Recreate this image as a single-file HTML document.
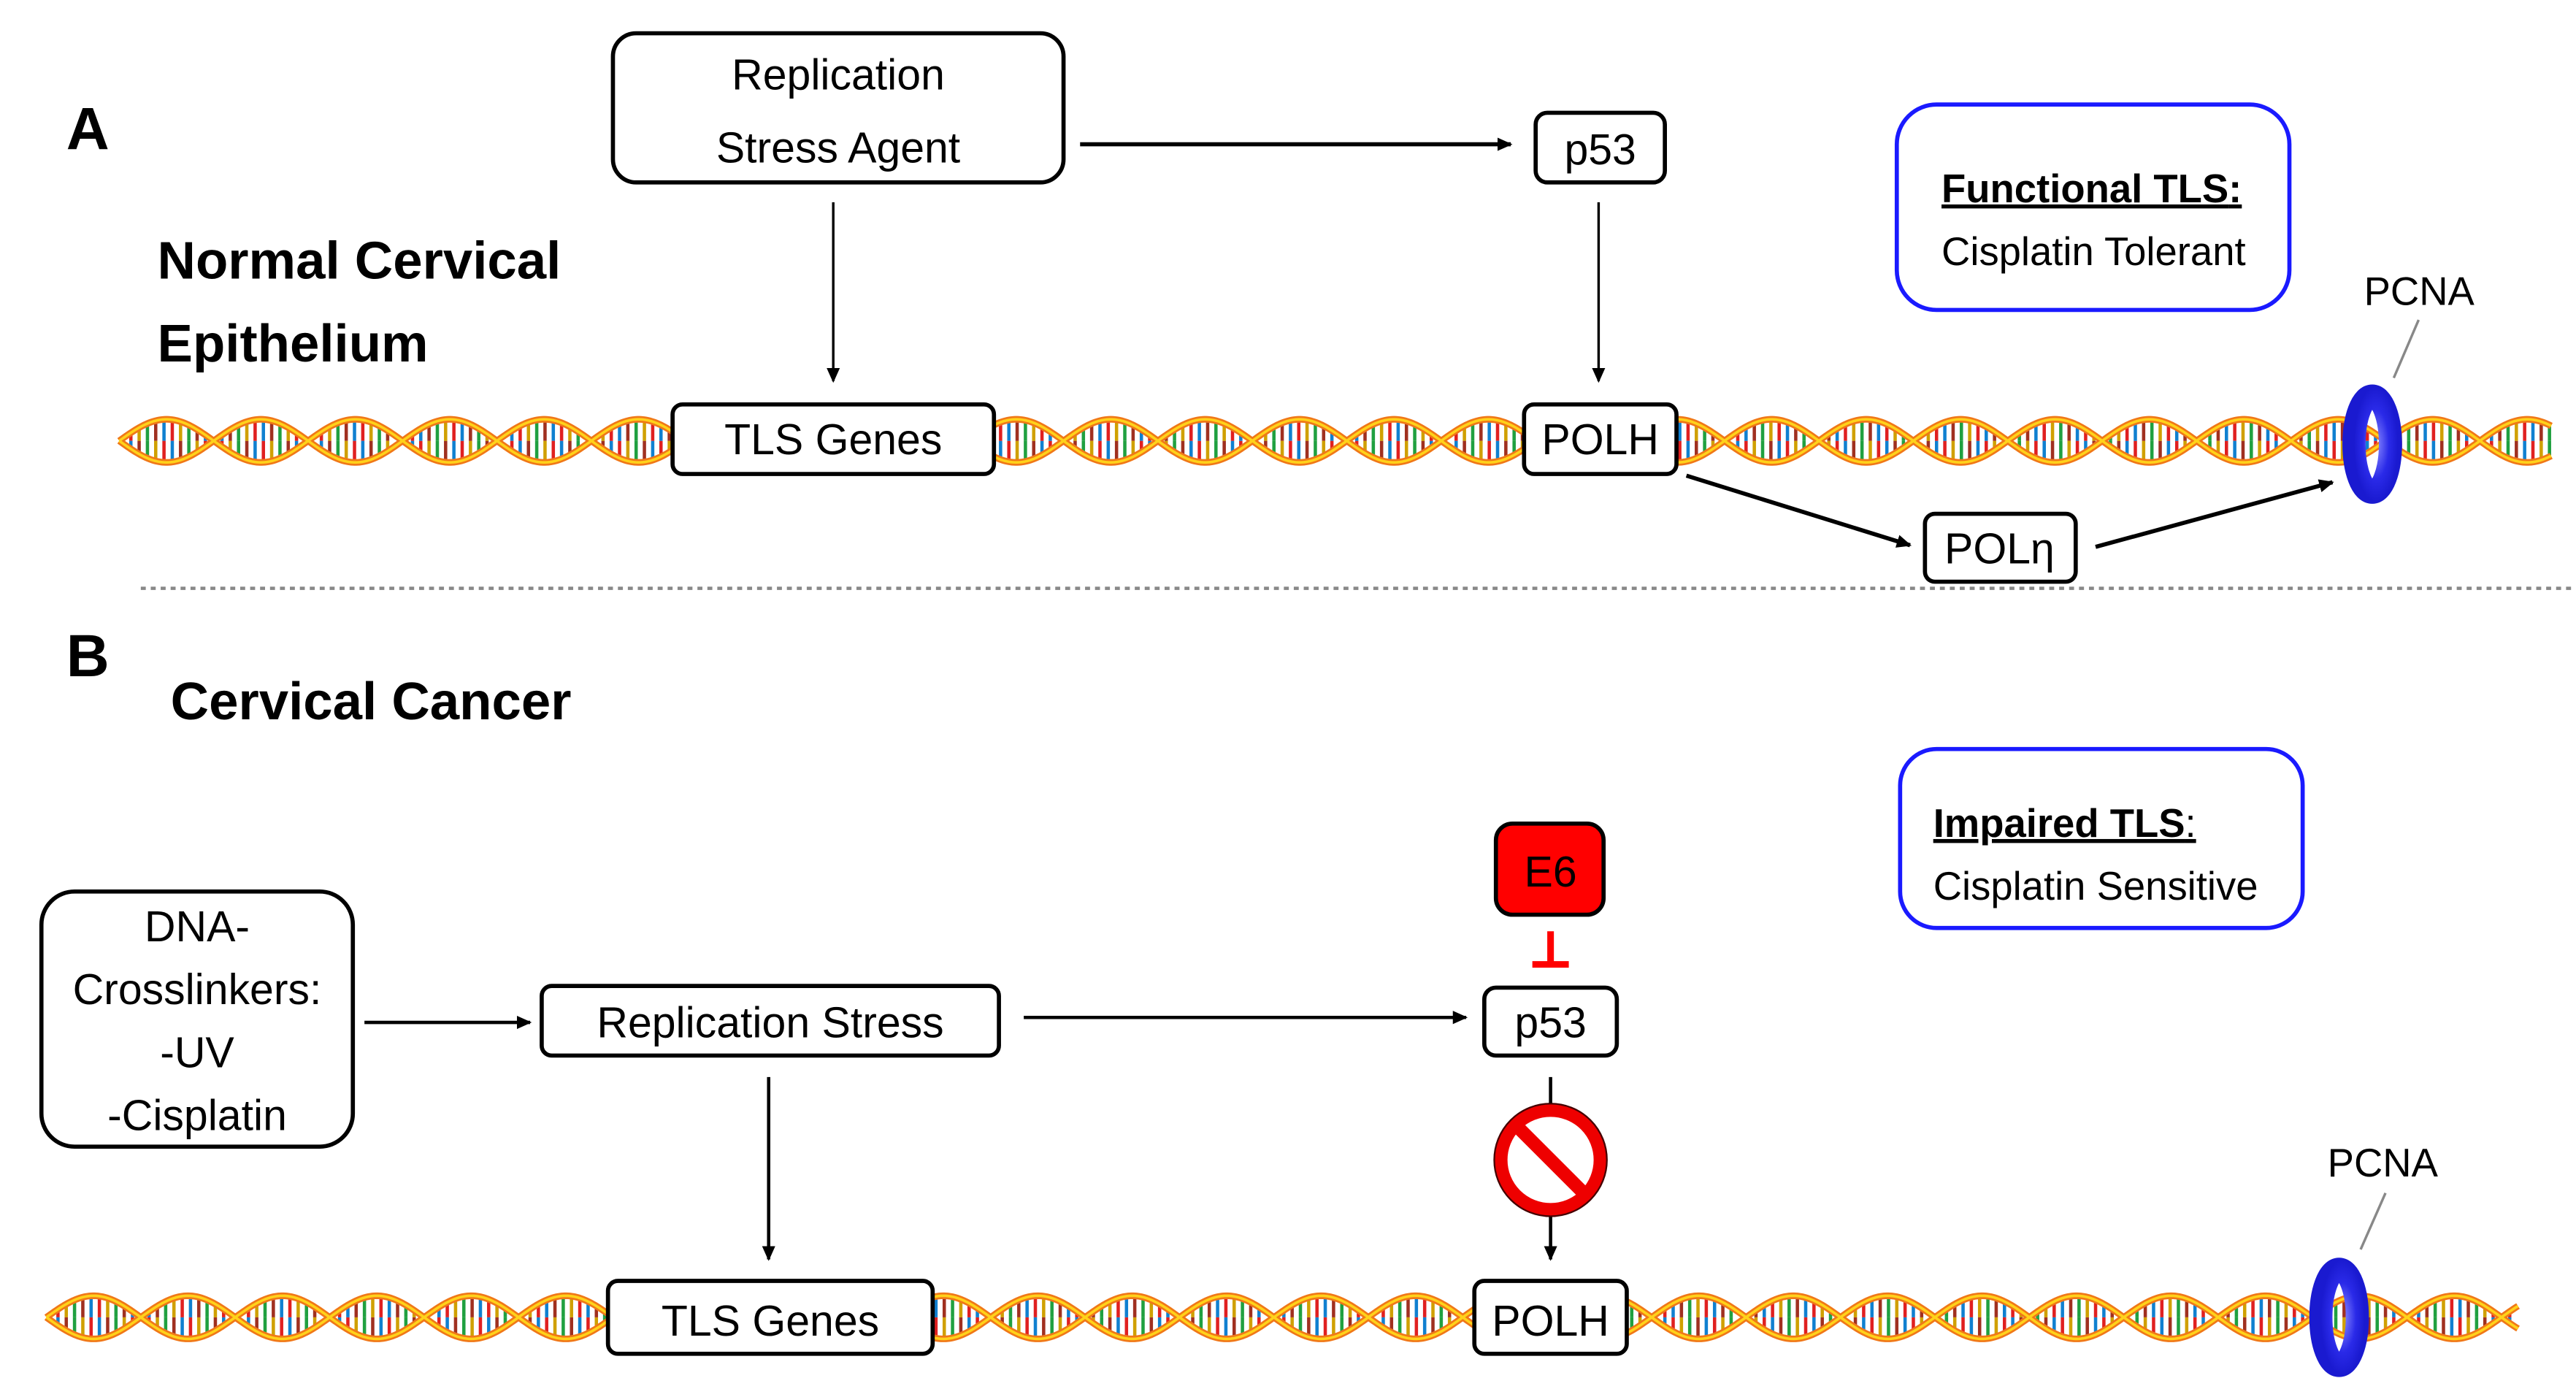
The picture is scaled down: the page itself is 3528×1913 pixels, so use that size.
<!DOCTYPE html>
<html><head><meta charset="utf-8"><style>
html,body{margin:0;padding:0;background:#fff;}
svg{display:block;}
text{font-family:"Liberation Sans","DejaVu Sans",sans-serif;}
</style></head><body>
<svg id="s" width="3528" height="1913" viewBox="0 0 1555 843" xmlns="http://www.w3.org/2000/svg">
<defs>
<marker id="ar" markerWidth="10" markerHeight="10" refX="8" refY="5" orient="auto" markerUnits="userSpaceOnUse"><path d="M0,1 L9,5 L0,9 Z" fill="#000"/></marker>
<radialGradient id="rg" cx="0.6" cy="0.5" r="0.6"><stop offset="0" stop-color="#8a8aff"/><stop offset="0.6" stop-color="#2a2ae8"/><stop offset="1" stop-color="#1a1ad0"/></radialGradient>
</defs>
<g id="dna"></g>
<g fill="none" stroke="#000" stroke-width="2">
<line x1="652" y1="87" x2="912" y2="87" stroke-width="2.5" marker-end="url(#ar)"/>
<line x1="503" y1="122" x2="503" y2="230" stroke-width="1.5" marker-end="url(#ar)"/>
<line x1="965" y1="122" x2="965" y2="230" stroke-width="1.5" marker-end="url(#ar)"/>
<line x1="1018" y1="287" x2="1153" y2="329" stroke-width="2.5" marker-end="url(#ar)"/>
<line x1="1265" y1="330" x2="1408" y2="291" stroke-width="2.5" marker-end="url(#ar)"/>
<line x1="220" y1="617" x2="320" y2="617" stroke-width="2" marker-end="url(#ar)"/>
<line x1="618" y1="614" x2="885" y2="614" stroke-width="2" marker-end="url(#ar)"/>
<line x1="464" y1="650" x2="464" y2="760" stroke-width="2" marker-end="url(#ar)"/>
<line x1="936" y1="650" x2="936" y2="760" stroke-width="2" marker-end="url(#ar)"/>
</g>
<line x1="85" y1="355" x2="1555" y2="355" stroke="#888" stroke-width="2" stroke-dasharray="3,3"/>
<line x1="1460" y1="193" x2="1445" y2="228" stroke="#888" stroke-width="1.5"/>
<line x1="1440" y1="720" x2="1425" y2="754" stroke="#888" stroke-width="1.5"/>
<g fill="#fff" stroke="#000" stroke-width="2.5">
<rect x="370" y="20" width="272" height="90" rx="14"/>
<rect x="927" y="68" width="78" height="42" rx="7"/>
<rect x="406" y="244" width="194" height="42" rx="6"/>
<rect x="920" y="244" width="92" height="42" rx="6"/>
<rect x="1162" y="310" width="91" height="41" rx="6"/>
<rect x="25" y="538" width="188" height="154" rx="20"/>
<rect x="327" y="595" width="276" height="42" rx="6"/>
<rect x="896" y="596" width="80" height="41" rx="7"/>
<rect x="367" y="773" width="196" height="44" rx="6"/>
<rect x="890" y="773" width="92" height="44" rx="6"/>
<rect x="903" y="497" width="65" height="55" rx="10" fill="#f00"/>
</g>
<g fill="#fff" stroke="#1a1aff" stroke-width="2.5">
<rect x="1145" y="63" width="237" height="124" rx="24"/>
<rect x="1147" y="452" width="243" height="108" rx="22"/>
</g>
<g stroke="#f00" stroke-width="4"><line x1="936" y1="562" x2="936" y2="582"/><line x1="925" y1="582" x2="947" y2="582"/></g>
<circle cx="936" cy="700" r="30" fill="#fff" stroke="#e00" stroke-width="8"/>
<line x1="915" y1="679" x2="957" y2="721" stroke="#e00" stroke-width="8"/>
<circle cx="936" cy="700" r="34" fill="none" stroke="#400" stroke-width="1"/>
<g id="rings"></g>
<g font-size="26" fill="#000" text-anchor="middle">
<text x="506" y="54">Replication</text>
<text x="506" y="98">Stress Agent</text>
<text x="966" y="99">p53</text>
<text x="503" y="274">TLS Genes</text>
<text x="966" y="274">POLH</text>
<text x="1207" y="340">POLη</text>
<text x="119" y="568">DNA-</text>
<text x="119" y="606">Crosslinkers:</text>
<text x="119" y="644">-UV</text>
<text x="119" y="682">-Cisplatin</text>
<text x="465" y="626">Replication Stress</text>
<text x="936" y="626">p53</text>
<text x="465" y="806">TLS Genes</text>
<text x="936" y="806">POLH</text>
<text x="936" y="535">E6</text>
</g>
<g font-size="24" fill="#000">
<text x="1172" y="122" font-weight="bold" text-decoration="underline">Functional TLS<tspan text-decoration="none">:</tspan></text>
<text x="1172" y="160">Cisplatin Tolerant</text>
<text x="1167" y="505" font-weight="bold" text-decoration="underline">Impaired TLS<tspan font-weight="normal">:</tspan></text>
<text x="1167" y="543">Cisplatin Sensitive</text>
<text x="1427" y="184">PCNA</text>
<text x="1405" y="710">PCNA</text>
</g>
<g font-weight="bold" fill="#000">
<text x="40" y="90" font-size="36">A</text>
<text x="40" y="408" font-size="36">B</text>
<text x="95" y="168" font-size="32">Normal Cervical</text>
<text x="95" y="218" font-size="32">Epithelium</text>
<text x="103" y="434" font-size="32">Cervical Cancer</text>
</g>
</svg>
<script>
(function(){
var NS="http://www.w3.org/2000/svg";
var dna=document.getElementById("dna");
var cols=["#e02020","#20a040","#1080d0","#d0a000","#a03020"];
function helix(x0,x1,cy,A,P){
  var s1="",s2="";
  for(var x=x0;x<=x1;x+=1){
    var y=A*Math.sin(2*Math.PI*(x-x0)/P);
    s1+=(x==x0?"M":"L")+x+","+(cy+y).toFixed(2);
    s2+=(x==x0?"M":"L")+x+","+(cy-y).toFixed(2);
  }
  var k=0;
  for(var x=x0+2;x<x1;x+=5){
    var y=A*Math.sin(2*Math.PI*(x-x0)/P);
    if(Math.abs(y)<3) continue;
    var c1=cols[(k*3)%5],c2=cols[(k*7+2)%5];k++;
    var l=document.createElementNS(NS,"line");
    l.setAttribute("x1",x);l.setAttribute("x2",x);l.setAttribute("y1",cy-y);l.setAttribute("y2",cy);
    l.setAttribute("stroke",c1);l.setAttribute("stroke-width","2");dna.appendChild(l);
    l=document.createElementNS(NS,"line");
    l.setAttribute("x1",x);l.setAttribute("x2",x);l.setAttribute("y1",cy);l.setAttribute("y2",cy+y);
    l.setAttribute("stroke",c2);l.setAttribute("stroke-width","2");dna.appendChild(l);
  }
  [[s1,"#f07818",4],[s2,"#f07818",4],[s1,"#ffd21a",1.6],[s2,"#ffd21a",1.6]].forEach(function(a){
    var p=document.createElementNS(NS,"path");
    p.setAttribute("d",a[0]);p.setAttribute("fill","none");p.setAttribute("stroke",a[1]);p.setAttribute("stroke-width",a[2]);
    dna.appendChild(p);
  });
}
helix(72,1540,266,13,114);
helix(28,1520,795,13,114);
var rings=document.getElementById("rings");
[[1432,268],[1412,795]].forEach(function(c){
  var e=document.createElementNS(NS,"ellipse");
  e.setAttribute("cx",c[0]);e.setAttribute("cy",c[1]);e.setAttribute("rx",11);e.setAttribute("ry",29);
  e.setAttribute("fill","none");e.setAttribute("stroke","url(#rg)");e.setAttribute("stroke-width","14");
  rings.appendChild(e);
});
})();
</script>
</body></html>
